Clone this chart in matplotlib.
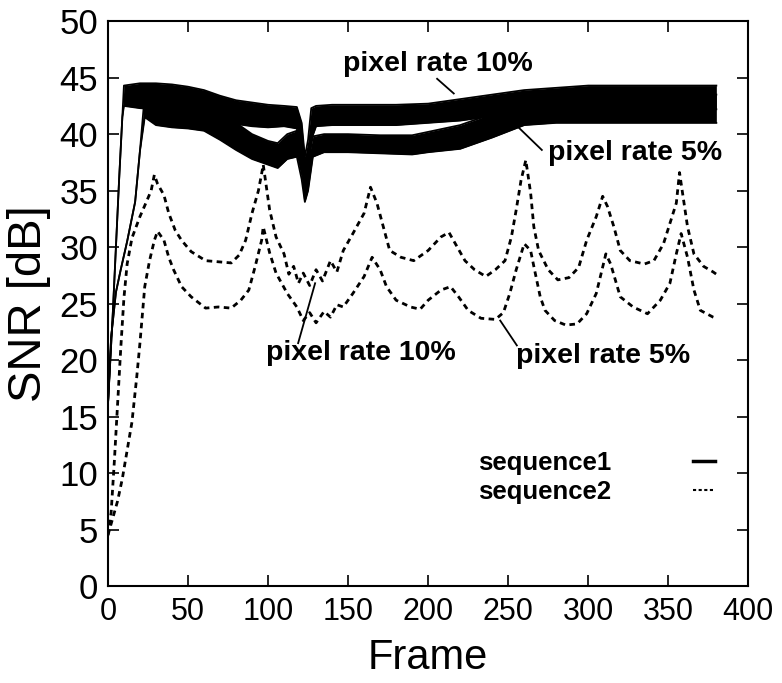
import matplotlib
matplotlib.use("Agg")
import matplotlib.pyplot as plt
from matplotlib.lines import Line2D

plt.rcParams['font.family'] = ['Liberation Sans', 'DejaVu Sans']

# sequence1, pixel rate 10% : band of the fast frame-to-frame oscillation (upper / lower edge)
frames_s1_10 = [0, 3, 5, 7, 9, 10, 20, 30, 40, 50, 60, 70, 80, 90, 100, 110, 118, 121, 123, 125,
                127, 130, 140, 160, 180, 200, 220, 240, 260, 280, 300, 340, 380]
hi_s1_10 = [16, 24, 30, 36, 41.5, 44.3, 44.5, 44.5, 44.4, 44.2, 43.9, 43.4, 43.0, 42.8, 42.6, 42.5, 42.4,
            41.0, 38.0, 39.5, 42.3, 42.5, 42.6, 42.6, 42.6, 42.7, 43.1, 43.5, 43.9, 44.1, 44.3, 44.3, 44.3]
lo_s1_10 = [16, 24, 30, 36, 41.5, 42.5, 42.3, 42.2, 42.0, 41.8, 41.5, 41.2, 40.9, 40.7, 40.6, 40.7, 40.5,
            38.0, 34.2, 35.5, 39.5, 40.7, 40.8, 40.8, 40.8, 41.0, 41.2, 41.6, 41.9, 42.1, 42.2, 42.2, 42.2]

# sequence1, pixel rate 5%
frames_s1_5 = [0, 2, 5, 8, 12, 17, 20, 23, 30, 40, 50, 60, 70, 80, 90, 100, 106, 112, 118, 121, 123,
               125, 128, 135, 150, 170, 190, 200, 220, 240, 260, 280, 300, 340, 380]
hi_s1_5 = [16, 22, 26, 28, 30.5, 34, 38.5, 43.5, 43.3, 43.0, 42.8, 42.5, 41.8, 41.0, 40.0, 39.4, 39.2,
           40.0, 40.3, 39.0, 36.0, 37.5, 39.8, 40.0, 40.0, 39.9, 39.9, 40.2, 40.8, 41.8, 43.0, 43.4, 43.5,
           43.5, 43.5]
lo_s1_5 = [16, 22, 26, 28, 30.5, 34, 38.5, 41.5, 40.8, 40.6, 40.5, 40.3, 39.5, 38.6, 37.8, 37.3, 37.0,
           37.8, 38.0, 36.0, 34.0, 35.0, 38.0, 38.4, 38.4, 38.3, 38.2, 38.4, 38.7, 39.7, 40.8, 41.0, 41.0,
           41.0, 41.0]

# sequence2, pixel rate 10%
frames_s2_10 = [0, 2, 4, 6, 8, 10, 12, 15, 20, 24, 27, 29, 31, 35, 38, 42, 46, 52, 61, 69, 77, 82, 86,
                90, 94, 96, 97, 101, 105, 110, 113, 116, 119, 122, 126, 130, 134, 139, 143, 147, 153,
                160, 164, 168, 172, 176, 183, 191, 200, 208, 213, 217, 223, 229, 236, 242, 248, 252,
                255, 258, 261, 264, 266, 269, 275, 281, 288, 294, 299, 305, 309, 312, 316, 320, 326,
                335, 341, 347, 351, 355, 357, 362, 366, 372, 378, 380]
v_s2_10 = [4.5, 6.5, 11, 16, 21, 25.5, 28.5, 30.8, 32.7, 34.0, 35.0, 36.4, 35.6, 34.6, 33.0, 31.5, 30.6,
           29.6, 28.8, 28.7, 28.6, 29.3, 30.6, 33.0, 35.0, 36.5, 37.3, 33.3, 30.9, 29.4, 27.6, 28.3,
           26.8, 27.7, 26.6, 28.0, 27.0, 28.8, 27.8, 29.7, 31.2, 33.0, 35.3, 33.9, 31.8, 29.7, 29.1,
           28.8, 29.7, 30.9, 31.3, 30.3, 28.8, 28.0, 27.4, 28.0, 28.8, 30.9, 33.3, 35.9, 37.7, 34.8,
           31.8, 29.7, 28.0, 27.1, 27.3, 28.2, 30.6, 32.7, 34.5, 33.6, 31.8, 29.7, 28.8, 28.5, 28.8,
           30.3, 32.1, 33.9, 36.6, 31.8, 29.4, 28.3, 27.8, 27.6]

# sequence2, pixel rate 5%
frames_s2_5 = [0, 3, 6, 9, 12, 15, 18, 20, 23, 26, 29, 31, 35, 38, 41, 46, 52, 61, 69, 77, 83, 88, 92,
               96, 97, 101, 105, 112, 118, 122, 126, 130, 135, 139, 143, 147, 153, 160, 165, 170, 174,
               180, 189, 195, 200, 208, 214, 219, 225, 233, 242, 247, 251, 255, 260, 264, 266, 270,
               273, 279, 286, 293, 299, 305, 311, 314, 320, 328, 337, 345, 351, 355, 358, 362, 366,
               370, 378, 380]
v_s2_5 = [4.5, 6.0, 7.5, 9.5, 12.0, 14.5, 18.5, 21.5, 26.5, 28.8, 30.6, 31.4, 30.6, 29.1, 28.0, 26.5,
          25.6, 24.6, 24.7, 24.6, 25.3, 26.2, 28.3, 30.6, 31.8, 29.5, 27.7, 25.9, 24.7, 23.5, 24.2,
          23.3, 24.3, 23.8, 24.9, 24.7, 25.9, 27.4, 29.1, 28.0, 26.5, 25.3, 24.7, 24.5, 25.3, 26.2,
          26.5, 25.6, 24.4, 23.7, 23.6, 24.2, 25.9, 28.0, 30.3, 29.7, 28.3, 25.6, 24.4, 23.5, 23.1,
          23.2, 24.1, 25.9, 29.4, 28.5, 25.6, 24.7, 24.1, 25.3, 26.8, 29.4, 31.2, 29.1, 26.2, 24.4,
          23.8, 23.7]

xticks = list(range(0, 401, 50))
yticks = list(range(0, 51, 5))

fig = plt.figure(figsize=(7.82, 6.83), dpi=100)
ax = fig.add_axes([0.138, 0.142, 0.819, 0.827])

# sequence1 bands (dense oscillation drawn as a dark band)
for f, lo, hi in [(frames_s1_5, lo_s1_5, hi_s1_5), (frames_s1_10, lo_s1_10, hi_s1_10)]:
    ax.fill_between(f, lo, hi, color='black', lw=0)
    ax.plot(f, hi, color='black', lw=1.3)
    ax.plot(f, lo, color='black', lw=1.3)

# sequence2 curves
ax.plot(frames_s2_10, v_s2_10, color='black', lw=2, linestyle=(0, (2, 1.6)))
ax.plot(frames_s2_5, v_s2_5, color='black', lw=2, linestyle=(0, (2, 1.6)))

# labels with pointer lines
lab = dict(fontsize=20.5, fontweight='bold', ha='center', va='center')
ax.text(206, 46.2, 'pixel rate 10%', **lab)
ax.plot([205.6, 216], [44.9, 43.6], color='black', lw=1.3)
ax.text(329, 38.3, 'pixel rate 5%', **lab)
ax.plot([256.4, 271], [40.6, 38.6], color='black', lw=1.3)
ax.text(158, 20.6, 'pixel rate 10%', **lab)
ax.plot([118.8, 129.4], [21.5, 26.8], color='black', lw=1.3)
ax.text(309, 20.4, 'pixel rate 5%', **lab)
ax.plot([245, 255.4], [23.5, 21.3], color='black', lw=1.3)

# legend
handles = [Line2D([], [], color='black', lw=2.5),
           Line2D([], [], color='black', lw=1.5, linestyle=(0, (1.5, 1.2)))]
ax.legend(handles, ['sequence1', 'sequence2'], loc='center right', bbox_to_anchor=(0.948, 0.192),
          frameon=False, markerfirst=False, handlelength=0.85, handletextpad=3.2,
          borderaxespad=0, borderpad=0, labelspacing=0.18,
          prop={'weight': 'bold', 'size': 18.5})

ax.set_xlim(0, 400)
ax.set_ylim(0, 50)
ax.set_xticks(xticks)
ax.set_yticks(yticks)
ax.tick_params(direction='in', top=True, right=True, length=8, width=1.2, labelsize=22, pad=8)
ax.tick_params(axis='y', labelsize=25, pad=7)
for s in ax.spines.values():
    s.set_linewidth(1.5)
ax.set_xlabel('Frame', fontsize=30, labelpad=8)
ax.set_ylabel('SNR [dB]', fontsize=34, labelpad=6)

fig.savefig('out.png', dpi=100)
